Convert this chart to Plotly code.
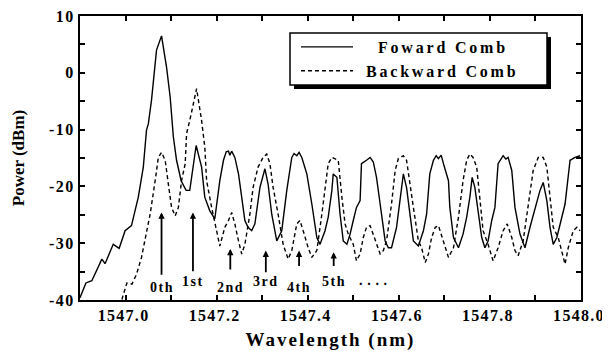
import plotly.graph_objects as go

# ---------------- data ----------------
fwd_wl = [1546.900, 1546.913, 1546.926, 1546.948, 1546.955, 1546.973, 1546.986, 1546.999,
          1547.013, 1547.028, 1547.039, 1547.046, 1547.050, 1547.057, 1547.068, 1547.079,
          1547.090, 1547.098, 1547.105, 1547.112, 1547.122, 1547.133, 1547.141, 1547.155,
          1547.167, 1547.174, 1547.185, 1547.193, 1547.196, 1547.207, 1547.215, 1547.221,
          1547.226, 1547.229, 1547.233, 1547.240, 1547.248, 1547.255, 1547.262, 1547.269,
          1547.277, 1547.284, 1547.295, 1547.306, 1547.313, 1547.321, 1547.332, 1547.343,
          1547.354, 1547.365, 1547.370, 1547.376, 1547.381, 1547.387, 1547.398, 1547.409,
          1547.420, 1547.427, 1547.438, 1547.445, 1547.453, 1547.456, 1547.464, 1547.471,
          1547.478, 1547.486, 1547.493, 1547.500, 1547.507, 1547.515, 1547.518, 1547.529,
          1547.537, 1547.544, 1547.551, 1547.559, 1547.570, 1547.577, 1547.584, 1547.595,
          1547.603, 1547.610, 1547.617, 1547.624, 1547.632, 1547.643, 1547.654, 1547.661,
          1547.668, 1547.676, 1547.682, 1547.687, 1547.693, 1547.698, 1547.709, 1547.712,
          1547.720, 1547.731, 1547.741, 1547.749, 1547.756, 1547.761, 1547.767, 1547.774,
          1547.782, 1547.789, 1547.796, 1547.804, 1547.811, 1547.818, 1547.829, 1547.835,
          1547.840, 1547.848, 1547.855, 1547.866, 1547.877, 1547.888, 1547.899, 1547.910,
          1547.917, 1547.925, 1547.932, 1547.939, 1547.947, 1547.958, 1547.965, 1547.976,
          1547.987, 1547.998]
fwd_dbm = [-39.6, -37.0, -36.6, -32.8, -33.6, -30.2, -30.9, -27.8,
           -26.9, -21.9, -16.6, -10.1, -9.0, -4.8, 4.0, 6.5,
           1.0, -4.3, -11.3, -15.4, -19.0, -20.7, -20.7, -12.8,
           -16.6, -21.9, -24.3, -25.2, -25.7, -19.0, -15.4, -13.9,
           -13.8, -14.5, -13.8, -14.9, -17.8, -21.9, -26.0, -27.2,
           -27.8, -26.6, -20.2, -16.9, -19.6, -24.9, -29.6, -27.8,
           -20.7, -14.9, -14.2, -14.6, -14.0, -14.9, -17.8, -23.1,
           -29.0, -30.2, -27.8, -25.4, -20.7, -17.8, -18.4, -24.9,
           -29.6, -30.2, -28.4, -26.0, -23.7, -22.5, -16.0, -15.4,
           -14.9, -15.7, -18.4, -23.1, -29.6, -30.8, -30.8, -27.2,
           -21.9, -17.8, -20.2, -24.9, -29.6, -30.5, -27.8, -24.9,
           -17.8, -15.4, -14.6, -15.1, -14.5, -16.0, -19.0, -23.7,
           -29.0, -30.8, -28.4, -25.4, -21.9, -18.4, -20.2, -24.3,
           -29.0, -30.8, -29.6, -26.0, -23.7, -16.0, -14.6, -15.2,
           -14.9, -17.2, -23.7, -28.4, -30.8, -27.2, -23.7, -20.7,
           -19.3, -22.5, -27.2, -30.2, -29.0, -25.4, -23.1, -15.4,
           -14.9, -14.6]

bwd_wl = [1546.992, 1547.003, 1547.014, 1547.024, 1547.035, 1547.046, 1547.054, 1547.065,
          1547.072, 1547.079, 1547.087, 1547.094, 1547.101, 1547.109, 1547.116, 1547.123,
          1547.131, 1547.134, 1547.141, 1547.156, 1547.167, 1547.174, 1547.178, 1547.189,
          1547.196, 1547.207, 1547.218, 1547.226, 1547.233, 1547.240, 1547.248, 1547.255,
          1547.262, 1547.273, 1547.280, 1547.291, 1547.302, 1547.310, 1547.317, 1547.324,
          1547.335, 1547.346, 1547.357, 1547.365, 1547.376, 1547.383, 1547.390, 1547.401,
          1547.409, 1547.420, 1547.431, 1547.438, 1547.445, 1547.453, 1547.460, 1547.467,
          1547.475, 1547.482, 1547.489, 1547.500, 1547.507, 1547.515, 1547.522, 1547.529,
          1547.537, 1547.544, 1547.551, 1547.559, 1547.566, 1547.573, 1547.584, 1547.592,
          1547.599, 1547.610, 1547.617, 1547.624, 1547.632, 1547.643, 1547.650, 1547.658,
          1547.665, 1547.672, 1547.680, 1547.687, 1547.698, 1547.709, 1547.720, 1547.731,
          1547.741, 1547.749, 1547.756, 1547.763, 1547.771, 1547.778, 1547.785, 1547.796,
          1547.807, 1547.818, 1547.829, 1547.838, 1547.848, 1547.855, 1547.862, 1547.873,
          1547.884, 1547.895, 1547.906, 1547.917, 1547.925, 1547.932, 1547.939, 1547.950,
          1547.961, 1547.965, 1547.972, 1547.983, 1547.991, 1547.998]
bwd_dbm = [-39.9, -37.0, -37.2, -35.5, -32.5, -28.4, -24.9, -19.0,
           -14.9, -14.0, -15.4, -19.6, -23.7, -25.2, -23.7, -19.0,
           -16.0, -10.7, -8.4, -2.8, -8.4, -13.1, -19.0, -23.7,
           -26.6, -30.5, -27.2, -26.0, -24.6, -26.6, -29.6, -31.9,
           -30.2, -24.9, -20.2, -16.6, -14.9, -14.3, -16.0, -20.2,
           -24.9, -30.2, -32.8, -31.3, -26.6, -26.0, -27.8, -30.8,
           -32.5, -31.3, -24.9, -20.7, -16.0, -14.9, -15.1, -15.4,
           -21.9, -26.6, -28.4, -30.2, -33.1, -31.9, -29.0, -27.2,
           -26.9, -28.4, -30.2, -31.9, -31.3, -29.6, -23.1, -17.2,
           -15.1, -14.6, -15.4, -19.6, -23.7, -29.6, -30.8, -33.4,
           -31.9, -29.0, -27.2, -26.9, -29.6, -32.5, -30.8, -25.4,
           -19.0, -15.4, -14.3, -14.9, -16.6, -21.9, -27.8, -30.2,
           -33.1, -30.8, -27.8, -26.6, -29.0, -31.3, -32.2, -29.6,
           -23.7, -17.2, -14.9, -14.9, -16.6, -21.9, -27.2, -29.0,
           -32.5, -33.7, -30.8, -27.8, -27.2, -27.8]

order_labels = ["0th", "1st", "2nd", "3rd", "4th", "5th"]
order_wl = [1547.079, 1547.148, 1547.230, 1547.308, 1547.381, 1547.457]
order_tip_dbm = [-24.6, -24.6, -31.0, -31.3, -31.3, -31.6]
order_tail_dbm = [-35.8, -35.2, -34.9, -35.4, -34.3, -34.3]
order_label_dbm = [-37.8, -36.8, -37.8, -36.8, -37.8, -36.8]

x_tickvals = [1546.9 + 0.1 * i for i in range(12)]
x_ticktext = ["", "1547.0", "", "1547.2", "", "1547.4", "", "1547.6", "", "1547.8", "", "1548.0"]
y_tickvals = [10, 5, 0, -5, -10, -15, -20, -25, -30, -35, -40]
y_ticktext = ["10", "", "0", "", "-10", "", "-20", "", "-30", "", "-40"]

FONT = "Liberation Serif, Times New Roman, serif"
NB = "\u00a0"


def spaced(t, sp=2):
    return '<span style="letter-spacing:%gpx">%s</span>' % (sp, t)


fig = go.Figure()
fig.add_trace(go.Scatter(x=fwd_wl, y=fwd_dbm, mode="lines", name=NB * 5 + spaced("Foward Comb", 2.8),
                         line=dict(color="black", width=1.4)))
fig.add_trace(go.Scatter(x=bwd_wl, y=bwd_dbm, mode="lines", name=NB * 2 + spaced("Backward Comb", 2.8),
                         line=dict(color="black", width=1.4, dash="4px,3px")))

for lab, xw, tip, tail, ly in zip(order_labels, order_wl, order_tip_dbm, order_tail_dbm, order_label_dbm):
    fig.add_annotation(x=xw, y=tip, ax=xw, ay=tail, xref="x", yref="y", axref="x", ayref="y",
                       text="", showarrow=True, arrowhead=2, arrowsize=0.7, arrowwidth=1.8,
                       arrowcolor="black")
    fig.add_annotation(x=xw, y=ly, xref="x", yref="y", text=spaced(lab, 1.5),
                       showarrow=False, font=dict(family=FONT, size=14, color="black", weight="bold"))
fig.add_annotation(x=1547.545, y=-36.6, xref="x", yref="y", text=spaced(". . . .", 0.6),
                   showarrow=False, font=dict(family=FONT, size=14, color="black", weight="bold"))

# legend frame + shadow
fig.add_shape(type="rect", xref="paper", yref="paper", x0=(294 - 80) / 501, x1=(551 - 80) / 501,
              y0=(300 - 89) / 284, y1=(300 - 37) / 284, fillcolor="black", line=dict(width=0), layer="above")
fig.add_shape(type="rect", xref="paper", yref="paper", x0=(290 - 80) / 501, x1=(547 - 80) / 501,
              y0=(300 - 85) / 284, y1=(300 - 33) / 284, fillcolor="white",
              line=dict(color="black", width=1.5), layer="above")

axis_common = dict(showline=True, linecolor="black", linewidth=2, mirror="ticks", ticks="inside",
                   ticklen=5, tickwidth=1.5, tickcolor="black", showgrid=False, zeroline=False,
                   automargin=False, ticklabeloverflow="allow",
                   tickfont=dict(family=FONT, size=16, color="black", weight="bold"))

fig.update_xaxes(range=[1546.9, 1548.0], tickvals=x_tickvals,
                 ticktext=[spaced(t, 1.3) if t else "" for t in x_ticktext],
                 ticklabelshift=-2,
                 title=dict(text=spaced("Wavelength (nm)", 2), standoff=15,
                            font=dict(family=FONT, size=19, color="black", weight="bold")),
                 **axis_common)
fig.update_yaxes(range=[-40, 10], tickvals=y_tickvals,
                 ticktext=[spaced(t, 1.5) if t else "" for t in y_ticktext],
                 title=dict(text="Power (dBm)", standoff=20,
                            font=dict(family=FONT, size=17, color="black", weight="bold")),
                 **axis_common)

# the page body adds an 8 px offset, so the figure is sized to the remaining area
fig.update_layout(width=602, height=343, margin=dict(l=72, r=29, t=8, b=51, autoexpand=False),
                  plot_bgcolor="white", paper_bgcolor="white",
                  legend=dict(x=(296 - 80) / 501, y=(300 - 30) / 284, xanchor="left", yanchor="top",
                              bgcolor="rgba(0,0,0,0)", borderwidth=0, itemwidth=52,
                              font=dict(family=FONT, size=16, color="black", weight="bold"),
                              tracegroupgap=0))

fig.write_html("out.html")
